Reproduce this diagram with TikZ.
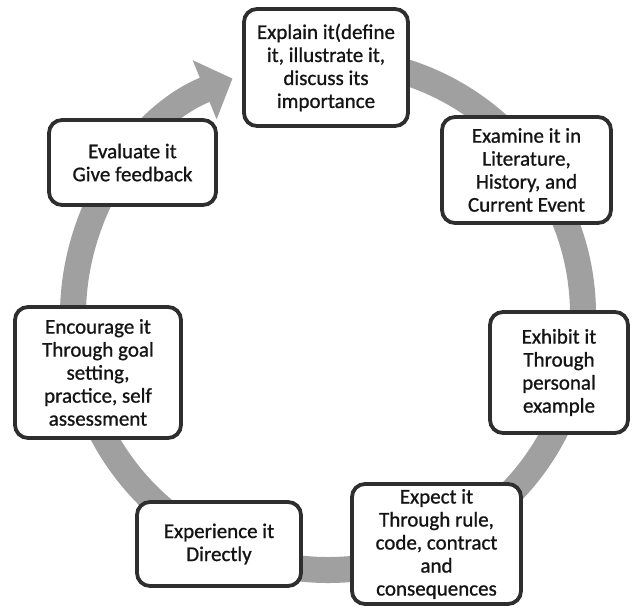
\documentclass[tikz,border=0pt]{standalone}
\usepackage{fontspec}
\newfontfamily\stagefont{Carlito}[RawFeature={embolden=0.9}]
\usetikzlibrary{arrows.meta}
\definecolor{boxline}{HTML}{2E2E2E}
\definecolor{arrowgray}{HTML}{A0A0A0}
\tikzset{
  stage/.style={draw=boxline, line width=3.8pt, rounded corners=13pt, fill=white,
    align=center, inner sep=0pt, text=black!92,
    font=\stagefont\fontsize{21pt}{23pt}\selectfont},
  cyclearrow/.style={line width=26pt, draw=arrowgray,
    -{Triangle[width=62pt,length=30pt]}}
}
\begin{document}
\begin{tikzpicture}[x=1pt,y=-1pt]
\useasboundingbox (0,0) rectangle (634,609);
\fill[white] (0,0) rectangle (634,609);
\coordinate (ctr) at (328,315);
\draw[cyclearrow] (ctr) ++(-85:255) arc[start angle=-85, end angle=248, radius=255];
\node[stage, minimum width=164pt, minimum height=117pt] (explain) at (326,67.5)
  {Explain it(define\\it, illustrate it,\\discuss its\\importance};
\node[stage, minimum width=169pt, minimum height=106pt] (examine) at (526.5,170)
  {Examine it in\\Literature,\\History, and\\Current Event};
\node[stage, minimum width=138pt, minimum height=121pt] (exhibit) at (559,372.5)
  {Exhibit it\\Through\\personal\\example};
\node[stage, minimum width=169pt, minimum height=120pt] (expect) at (436.5,544)
  {Expect it\\Through rule,\\code, contract\\and\\consequences};
\node[stage, minimum width=164pt, minimum height=84pt] (experience) at (219,544)
  {Experience it\\Directly};
\node[stage, minimum width=166pt, minimum height=131pt] (encourage) at (98,372.5)
  {Encourage it\\Through goal\\setting,\\practice, self\\assessment};
\node[stage, minimum width=167pt, minimum height=85pt] (evaluate) at (132.5,162.5)
  {Evaluate it\\Give feedback};
\end{tikzpicture}
\end{document}
